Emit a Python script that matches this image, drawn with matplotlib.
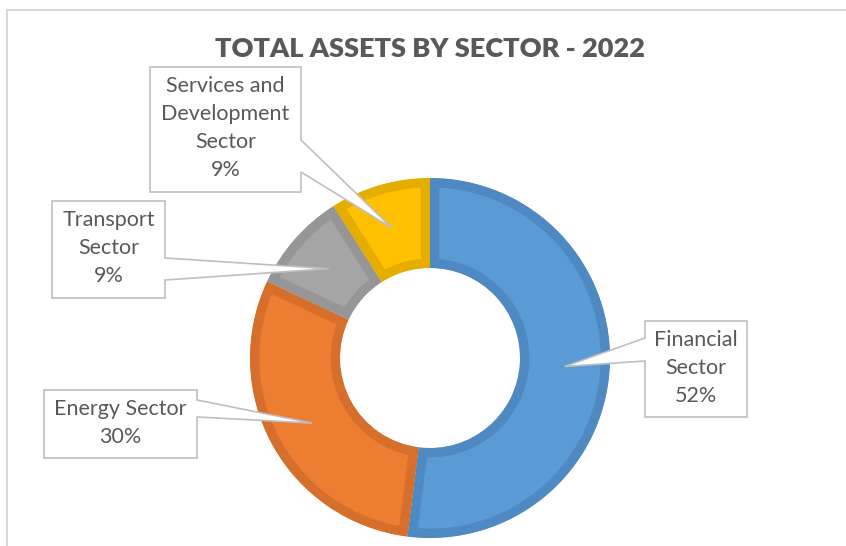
import numpy as np
import matplotlib
matplotlib.use('Agg')
import matplotlib.pyplot as plt
from matplotlib.patches import Polygon
from matplotlib.lines import Line2D

plt.rcParams['font.family'] = ['Lato', 'DejaVu Sans']

# data
sectors = ['Financial\nSector', 'Energy Sector', 'Transport\nSector', 'Services and\nDevelopment\nSector']
shares = [52, 30, 9, 9]
fills = ['#5B9BD5', '#ED7D31', '#A5A5A5', '#FFC000']
edges = ['#4F89C1', '#D66F2B', '#969696', '#E5AD00']

W, H = 846, 546
fig = plt.figure(figsize=(W / 100, H / 100), dpi=100)
ax = fig.add_axes([0, 0, 1, 1])

# donut, centre and radii in pixels (y measured upwards)
cx, cy = 430, H - 358
r_out, r_in = 180, 90
wedges, _ = ax.pie(shares, colors=fills, startangle=90, counterclock=False,
                   radius=r_out, center=(cx, cy),
                   wedgeprops=dict(width=r_out - r_in, edgecolor='none'))
for w, ec in zip(wedges, edges):
    w.set_edgecolor(ec)
    w.set_linewidth(13.5)
    w.set_clip_on(True)
    w.set_clip_path(w)   # keep the thick border inside each slice

ax.set_xlim(0, W)
ax.set_ylim(0, H)
ax.axis('off')

# callout boxes: (left, top, right, bottom) in px, side of the pointer, pointer base span
boxes = [
    ((645, 321, 747, 417), 'left', (338, 361)),
    ((44, 390, 197, 458), 'right', (400, 417)),
    ((52, 201, 165, 298), 'right', (258, 280)),
    ((150, 67, 301, 192), 'right', (140, 172)),
]

mid_r = (r_out + r_in) / 2
for w, label, share, (box, side, (b0, b1)) in zip(wedges, sectors, shares, boxes):
    ang = np.deg2rad((w.theta1 + w.theta2) / 2)
    tx, ty = cx + mid_r * np.cos(ang), cy + mid_r * np.sin(ang)
    x0, y0, x1, y1 = box
    if side == 'right':
        pts = [(x0, y0), (x1, y0), (x1, b0), (tx, H - ty), (x1, b1), (x1, y1), (x0, y1)]
    else:
        pts = [(x0, y0), (x1, y0), (x1, y1), (x0, y1), (x0, b1), (tx, H - ty), (x0, b0)]
    pts = [(px, H - py) for px, py in pts]
    ax.add_patch(Polygon(pts, closed=True, facecolor='white', edgecolor='#BFBFBF',
                         linewidth=1.2, joinstyle='miter', zorder=5))
    ax.text((x0 + x1) / 2, H - (y0 + y1) / 2 + 1, f'{label}\n{share}%', ha='center', va='center',
            fontsize=15.5, color='#595959', linespacing=1.5, zorder=6)

# chart area frame
ax.add_line(Line2D([7, 7, W], [0, H - 10, H - 10], color='#D9D9D9', linewidth=1.5))

ax.text(430, H - 49, 'TOTAL ASSETS BY SECTOR - 2022', ha='center', va='center',
        fontsize=19.5, fontweight='heavy', color='#595959')

fig.savefig('out.png', dpi=100)
